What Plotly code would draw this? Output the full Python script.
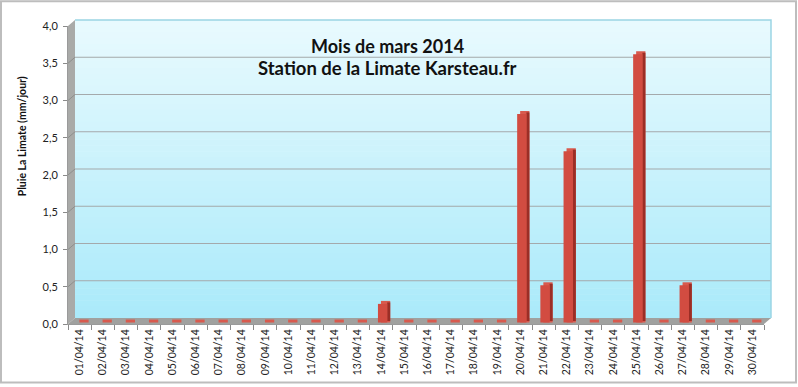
import plotly.graph_objects as go

# ---------------- data ----------------
dates = ["01/04/14", "02/04/14", "03/04/14", "04/04/14", "05/04/14", "06/04/14",
         "07/04/14", "08/04/14", "09/04/14", "10/04/14", "11/04/14", "12/04/14",
         "13/04/14", "14/04/14", "15/04/14", "16/04/14", "17/04/14", "18/04/14",
         "19/04/14", "20/04/14", "21/04/14", "22/04/14", "23/04/14", "24/04/14",
         "25/04/14", "26/04/14", "27/04/14", "28/04/14", "29/04/14", "30/04/14"]
rain = [0, 0, 0, 0, 0, 0, 0, 0, 0, 0, 0, 0, 0, 0.25, 0, 0, 0, 0, 0,
        2.8, 0.5, 2.3, 0, 0, 3.6, 0, 0.5, 0, 0, 0]
y_ticks = [0, 0.5, 1.0, 1.5, 2.0, 2.5, 3.0, 3.5, 4.0]
title1 = "Mois de mars 2014"
title2 = "Station de la Limate Karsteau.fr"
y_title = "Pluie La Limate (mm/jour)"

# ---------------- layout geometry ----------------
W, H = 798, 387
L, R, T, B = 68, 34, 26, 61
PW, PH = W - L - R, H - T - B
DX, DY = 7, 6          # depth of the pseudo-3D walls (px)
FONT = "Lato, 'Open Sans', sans-serif"


def px(x):
    return (x - L) / PW


def py(y):
    return (H - B - y) / PH


# bar geometry (category units / data units)
CAT = PW / len(dates)
UNIT = PH / 4.0
BW = 0.40
OFF = -0.14
SHX = 3 / CAT
SHY = 3 / UNIT
DZ = 1.5 / UNIT

shapes = []

# outer frame
shapes.append(dict(type="rect", xref="paper", yref="paper",
                   x0=px(1), x1=px(796), y0=py(1), y1=py(385),
                   line=dict(color="#bdbdbd", width=2), fillcolor="white", layer="below"))

# back wall gradient
top_c = (233, 250, 254)
bot_c = (170, 234, 250)
n = 50
y_top, y_bot = T - DY, H - B - DY
for i in range(n):
    f = (i + 0.5) / n
    c = tuple(int(round(top_c[k] + (bot_c[k] - top_c[k]) * f)) for k in range(3))
    ya = y_top + (y_bot - y_top) * i / n
    yb = y_top + (y_bot - y_top) * (i + 1) / n + 0.6
    shapes.append(dict(type="rect", xref="paper", yref="paper",
                       x0=px(L + DX), x1=px(L + PW + DX), y0=py(yb), y1=py(ya),
                       line=dict(width=0), fillcolor="rgb(%d,%d,%d)" % c, layer="below"))

# left wall
shapes.append(dict(type="path", xref="paper", yref="paper",
                   path="M %f,%f L %f,%f L %f,%f L %f,%f Z" % (
                       px(L), py(T), px(L + DX), py(T - DY),
                       px(L + DX), py(H - B - DY), px(L), py(H - B)),
                   fillcolor="#a9aaa8", line=dict(width=0), layer="below"))
# floor
shapes.append(dict(type="path", xref="paper", yref="paper",
                   path="M %f,%f L %f,%f L %f,%f L %f,%f Z" % (
                       px(L), py(H - B), px(L + DX), py(H - B - DY),
                       px(L + PW + DX), py(H - B - DY), px(L + PW), py(H - B)),
                   fillcolor="#a0a19f", line=dict(width=0), layer="below"))

# gridlines on the back wall and the left wall
for v in y_ticks[1:-1]:
    shapes.append(dict(type="line", xref="paper", yref="y", ysizemode="pixel", yanchor=v,
                       x0=px(L + DX), x1=px(L + PW + DX), y0=DY, y1=DY,
                       line=dict(color="#a4a9ab", width=1), layer="below"))
    shapes.append(dict(type="line", xref="paper", yref="y", ysizemode="pixel", yanchor=v,
                       x0=px(L), x1=px(L + DX), y0=0, y1=DY,
                       line=dict(color="#8e8f8d", width=1), layer="below"))

# back wall border (top and right)
shapes.append(dict(type="path", xref="paper", yref="paper",
                   path="M %f,%f L %f,%f L %f,%f" % (
                       px(L + DX), py(T - DY), px(L + PW + DX), py(T - DY),
                       px(L + PW + DX), py(H - B - DY)),
                   line=dict(color="#9bd5e4", width=1.5), layer="below"))

fig = go.Figure()

# top face (light)
fig.add_trace(go.Bar(x=dates, y=[v + SHY for v in rain], base=DZ,
                     offset=OFF + SHX, width=BW,
                     marker=dict(color="#d85a4e", line=dict(width=0)),
                     hoverinfo="skip"))
# side face (dark)
fig.add_trace(go.Bar(x=dates, y=rain, base=DZ + SHY / 2,
                     offset=OFF + BW, width=SHX,
                     marker=dict(color="#9b2e26", line=dict(width=0)),
                     hoverinfo="skip"))
# front face
fig.add_trace(go.Bar(x=dates, y=rain, base=DZ,
                     offset=OFF, width=BW,
                     marker=dict(color="#d24c41", line=dict(width=0)),
                     hovertemplate="%{x}: %{y} mm<extra></extra>"))

annotations = [
    dict(text="<b>" + title1 + "</b>", xref="paper", yref="paper",
         x=px(387), y=py(46), showarrow=False, xanchor="center", yanchor="middle",
         font=dict(family=FONT, size=18, color="#111111")),
    dict(text="<b>" + title2 + "</b>", xref="paper", yref="paper",
         x=px(387), y=py(68), showarrow=False, xanchor="center", yanchor="middle",
         font=dict(family=FONT, size=18.5, color="#111111")),
    dict(text="<b>" + y_title + "</b>", xref="paper", yref="paper",
         x=px(22), y=py(137), showarrow=False, textangle=-90,
         xanchor="center", yanchor="middle",
         font=dict(family=FONT, size=10.5, color="#111111")),
]

fig.update_layout(
    width=W, height=H,
    margin=dict(l=L, r=R, t=T, b=B, pad=0),
    paper_bgcolor="white", plot_bgcolor="rgba(0,0,0,0)",
    barmode="overlay", showlegend=False,
    separators=", ",
    shapes=shapes, annotations=annotations,
    xaxis=dict(type="category", range=[-0.5, len(dates) - 0.5],
               tickangle=-90, tickson="boundaries", ticks="outside", ticklen=5,
               tickcolor="#8a8a8a", showline=True, linecolor="#9a9a9a", linewidth=1,
               showgrid=False, zeroline=False,
               tickfont=dict(family=FONT, size=10.5, color="#222222")),
    yaxis=dict(range=[0, 4], tickvals=y_ticks, tickformat=".1f",
               ticks="outside", ticklen=4, tickcolor="#8a8a8a",
               showline=True, linecolor="#9a9a9a", linewidth=1,
               showgrid=False, zeroline=False, ticklabelstandoff=3,
               tickfont=dict(family=FONT, size=11, color="#222222")),
)

fig.write_html("out.html",
               config={"displayModeBar": False},
               post_script="document.body.style.margin='0';document.body.style.overflow='hidden';")
